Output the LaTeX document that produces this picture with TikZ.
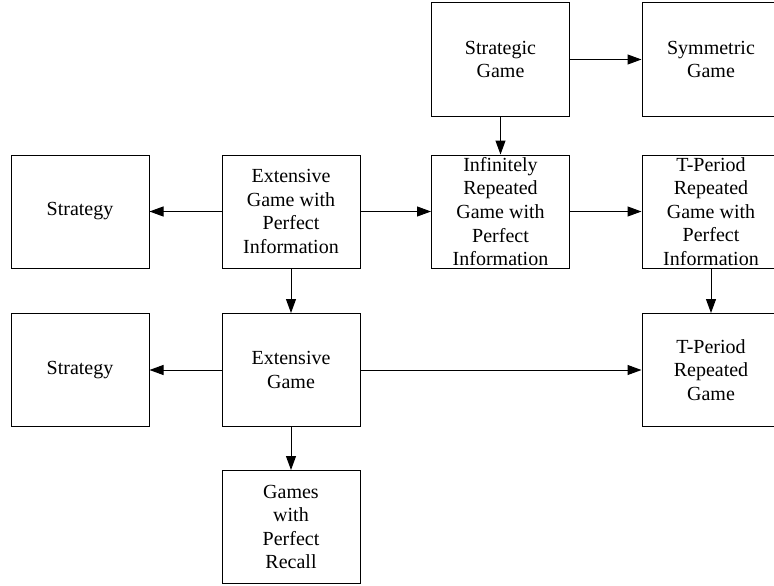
\documentclass[tikz,border=0pt]{standalone}
\usepackage{fontspec}
\setmainfont{Liberation Serif}
\usetikzlibrary{arrows.meta}

\tikzset{
    gamebox/.style={draw, line width=1pt, minimum width=138pt, minimum height=113pt,
        align=center, inner sep=0pt, font=\fontsize{20}{23.6}\selectfont},
    link/.style={-{Triangle[length=14pt,width=10pt]}, line width=1pt}
}

\begin{document}
\begin{tikzpicture}[x=1pt, y=-1pt]
    \useasboundingbox (0, 0) rectangle (774, 586);

    \node[gamebox] (strategic) at (500.5, 59.5) {Strategic\\Game};
    \node[gamebox] (symmetric) at (711, 59.5) {Symmetric\\Game};

    \node[gamebox] (strategyA) at (80, 211.5) {Strategy};
    \node[gamebox] (extpi) at (291, 211.5) {Extensive\\Game with\\Perfect\\Information};
    \node[gamebox] (infrep) at (500.5, 211.5) {Infinitely\\Repeated\\Game with\\Perfect\\Information};
    \node[gamebox] (tperpi) at (711, 211.5) {T-Period\\Repeated\\Game with\\Perfect\\Information};

    \node[gamebox] (strategyB) at (80, 370) {Strategy};
    \node[gamebox] (extensive) at (291, 370) {Extensive\\Game};
    \node[gamebox] (tper) at (711, 370) {T-Period\\Repeated\\Game};

    \node[gamebox] (recall) at (291, 527) {Games\\with\\Perfect\\Recall};

    \draw[link] (strategic) -- (symmetric);
    \draw[link] (strategic) -- (infrep);
    \draw[link] (extpi) -- (strategyA);
    \draw[link] (extpi) -- (infrep);
    \draw[link] (infrep) -- (tperpi);
    \draw[link] (extpi) -- (extensive);
    \draw[link] (tperpi) -- (tper);
    \draw[link] (extensive) -- (strategyB);
    \draw[link] (extensive) -- (tper);
    \draw[link] (extensive) -- (recall);
\end{tikzpicture}
\end{document}
